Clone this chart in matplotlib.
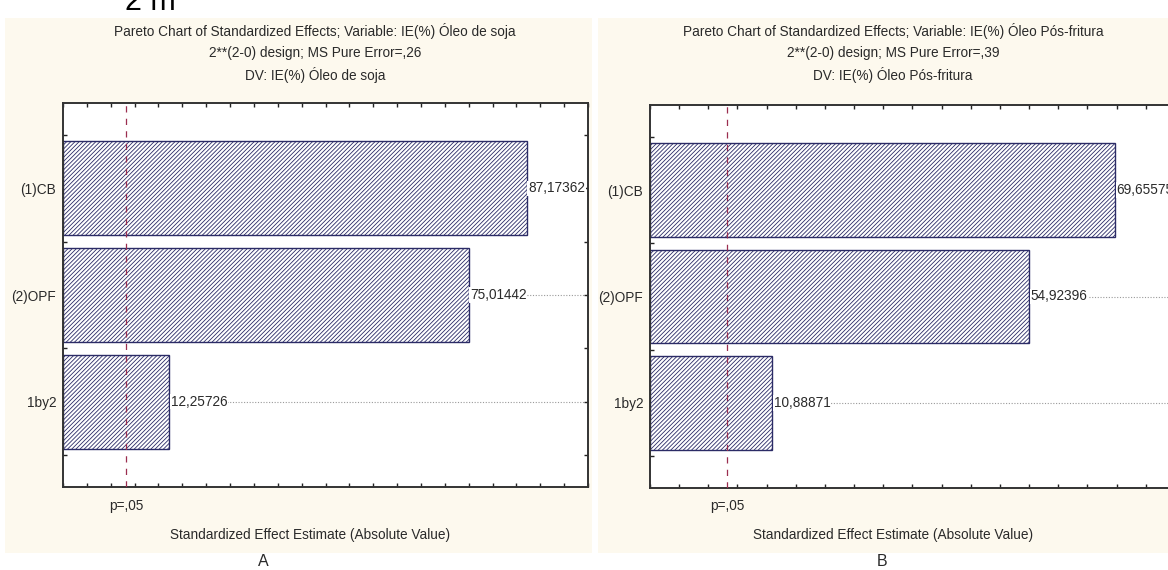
import numpy as np
import matplotlib.pyplot as plt
from matplotlib.patches import Rectangle

plt.rcParams['font.family'] = ['Liberation Sans', 'DejaVu Sans']
plt.rcParams['hatch.linewidth'] = 0.6

# effects, largest first
factors = ['(1)CB', '(2)OPF', '1by2']
effects_soja = [87.17362, 75.01442, 12.25726]
effects_fritura = [69.65575, 54.92396, 10.88871]
t_crit = 3.182

titles_soja = ['Pareto Chart of Standardized Effects; Variable: IE(%) Óleo de soja',
               '2**(2-0) design; MS Pure Error=,26',
               'DV: IE(%) Óleo de soja']
titles_fritura = ['Pareto Chart of Standardized Effects; Variable: IE(%) Óleo Pós-fritura',
                  '2**(2-0) design; MS Pure Error=,39',
                  'DV: IE(%) Óleo Pós-fritura']

W, H = 1168, 570
BG = '#fdf9ee'
TXT = '#2a2a2a'
BAR = '#2b2b66'
FS = 9.8


def px(x, y):
    return x / W, 1 - y / H


def panel(fig, rect, values, xmax, titles, tcx, letter, lcx):
    x0, y0, x1, y1 = rect
    ax = fig.add_axes([x0 / W, 1 - y1 / H, (x1 - x0) / W, (y1 - y0) / H])
    pos = np.arange(len(values))
    xmin = -10
    ax.barh(pos, np.array(values) - xmin, left=xmin, height=0.88,
            color='white', edgecolor=BAR, hatch='////////', linewidth=1.0, zorder=2)
    ax.hlines(pos, xmin, xmax, colors='#9a9a9a', linestyles=(0, (1, 1.5)),
              linewidth=0.8, zorder=1)
    for p, v in zip(pos, values):
        ax.text(v + 0.3, p, f'{v:.5f}'.replace('.', ','), va='center', ha='left',
                fontsize=FS, color=TXT, zorder=3,
                bbox=dict(facecolor='white', edgecolor='none', pad=0.6))
    ax.axvline(t_crit, color='#9b2d4f', linestyle=(0, (5, 5)), linewidth=0.9, zorder=4)
    ax.set_xlim(xmin, xmax)
    ax.set_ylim(2.8, -0.8)
    ax.set_yticks(pos)
    ax.set_yticklabels(factors, fontsize=FS, color=TXT)
    ax.set_yticks(np.arange(-0.5, 2.6, 0.5), minor=True)
    ax.set_xticks(np.arange(xmin, xmax + 1, 5))
    ax.set_xticklabels([])
    ax.tick_params(which='both', direction='in', length=3, width=1, colors='#222222',
                   top=True, right=True, labelcolor=TXT, pad=5)
    for s in ax.spines.values():
        s.set_linewidth(1.4)
        s.set_color('#333333')

    xp = ax.transData.transform((t_crit, 0))[0]
    fig.text(xp / fig.dpi / fig.get_figwidth(), 1 - 506 / H, 'p=,05',
             ha='center', va='center', fontsize=FS, color=TXT)
    for i, t in enumerate(titles):
        fig.text(*px(tcx, 31 + 22 * i), t, ha='center', va='center', fontsize=FS, color=TXT)
    fig.text(*px(lcx, 535), 'Standardized Effect Estimate (Absolute Value)',
             ha='center', va='center', fontsize=FS, color=TXT)
    fig.text(*px(letter[1], 561), letter[0], ha='center', va='center',
             fontsize=11.5, color=TXT)
    return ax


fig = plt.figure(figsize=(W / 100, H / 100), dpi=100)
fig.patch.set_facecolor('white')
fig.patches.append(Rectangle(px(5, 553), 587 / W, 535 / H, transform=fig.transFigure,
                             facecolor=BG, edgecolor='none', zorder=-1))
fig.patches.append(Rectangle(px(598, 553), 575 / W, 535 / H, transform=fig.transFigure,
                             facecolor=BG, edgecolor='none', zorder=-1))
fig.text(*px(150, 2), '2 m', ha='center', va='center', fontsize=22, color='black')

panel(fig, (63, 103, 588, 487), effects_soja, 100, titles_soja, 315, ('A', 263), 310)
panel(fig, (650, 105, 1175, 488), effects_fritura, 80, titles_fritura, 893, ('B', 882), 893)

fig.savefig('out.png', dpi=100)
